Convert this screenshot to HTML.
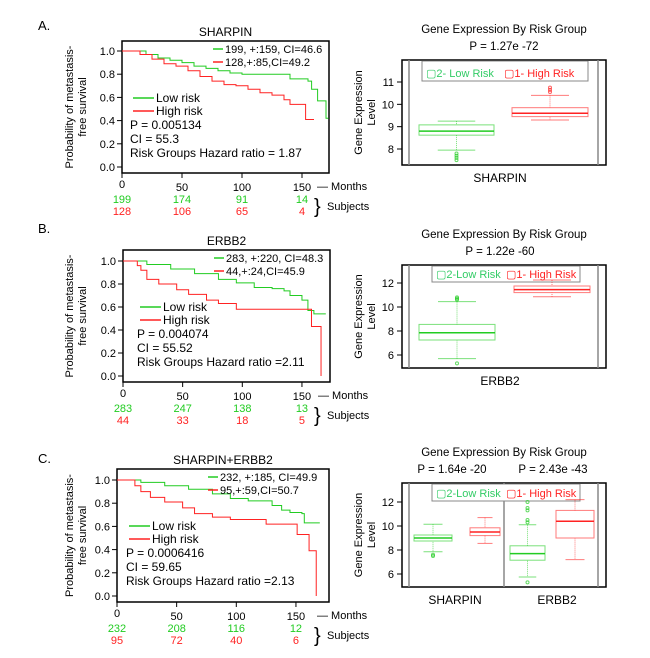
<!DOCTYPE html>
<html><head><meta charset="utf-8"><style>
body{margin:0;background:#fff;}
svg{display:block;font-family:"Liberation Sans",Arial,sans-serif;}
</style></head><body>
<svg id="fig" width="650" height="658" viewBox="0 0 650 658" xmlns="http://www.w3.org/2000/svg"></svg>
<script>
// ---------- KM data (months, survival) ----------
const kmA_low=[[0,1],[10,1],[20,0.97],[30,0.94],[40,0.92],[50,0.9],[60,0.87],[70,0.85],[80,0.83],[90,0.81],[100,0.8],[130,0.8],[140,0.76],[155,0.74],[158,0.67],[163,0.57],[170,0.42],[172,0.42]];
const kmA_high=[[0,1],[10,1],[15,0.97],[25,0.93],[35,0.89],[45,0.87],[55,0.83],[65,0.78],[75,0.74],[85,0.71],[95,0.7],[105,0.67],[115,0.64],[125,0.62],[135,0.58],[140,0.54],[152,0.54],[153,0.41],[160,0.41]];
const kmB_low=[[0,1],[10,1],[20,0.97],[40,0.93],[60,0.89],[80,0.84],[95,0.81],[110,0.77],[125,0.76],[135,0.74],[140,0.7],[150,0.66],[155,0.57],[160,0.54],[170,0.54]];
const kmB_high=[[0,1],[8,1],[12,0.96],[15,0.92],[20,0.84],[30,0.8],[45,0.75],[55,0.71],[70,0.66],[80,0.63],[95,0.58],[156,0.58],[158,0.43],[165,0.43],[166,0]];
const kmC_low=[[0,1],[10,1],[20,0.98],[40,0.95],[60,0.92],[80,0.88],[95,0.84],[110,0.82],[130,0.78],[138,0.74],[145,0.72],[155,0.71],[157,0.63],[170,0.63]];
const kmC_high=[[0,1],[12,1],[15,0.95],[20,0.9],[28,0.85],[40,0.81],[55,0.76],[65,0.71],[80,0.68],[95,0.66],[125,0.62],[150,0.62],[151,0.53],[160,0.53],[161,0.39],[166,0.39],[167,0]];
const kmTicksX=[0,50,100,150];
const kmTicksY=[0,0.2,0.4,0.6,0.8,1.0];
const subjA_low=[199,174,91,14], subjA_high=[128,106,65,4];
const subjB_low=[283,247,138,13], subjB_high=[44,33,18,5];
const subjC_low=[232,208,116,12], subjC_high=[95,72,40,6];
// ---------- Box data: [lowWhisker, q1, median, q3, highWhisker] ----------
const boxA_low=[7.95,8.62,8.8,9.08,9.25], boxA_high=[9.3,9.45,9.6,9.85,10.4];
const outA_low=[7.5,7.6,7.7,7.8], outA_high=[10.55,10.65,10.75];
const boxB_low=[5.7,7.25,7.85,8.55,10.45], boxB_high=[10.85,11.2,11.45,11.75,12.25];
const outB_low=[10.6,10.7,10.8,5.3], outB_high=[];
const boxC_s_low=[7.85,8.75,9.0,9.25,10.15], boxC_s_high=[8.55,9.2,9.5,9.85,10.7];
const outC_s_low=[7.5,7.6];
const boxC_e_low=[5.75,7.15,7.7,8.35,10.1], boxC_e_high=[7.2,9.0,10.4,11.3,12.2];
const outC_e_low=[10.3,10.5,11.3,11.5,12.0,5.3];
const GREEN='#22cc22', RED='#ff2222', LG='#33cc66';
const svg=document.getElementById('fig');
const NS='http://www.w3.org/2000/svg';
function el(tag,attrs,parent,text){const e=document.createElementNS(NS,tag);for(const k in attrs)e.setAttribute(k,attrs[k]);if(text!==undefined)e.textContent=text;(parent||svg).appendChild(e);return e;}
function txt(x,y,s,size,fill,anchor,parent,name){const t=el('text',{x:x,y:y,'font-size':size,fill:fill||'#000','text-anchor':anchor||'start'},parent,s);

return t;}

function km(cfg){
  const g=el('g',{});
  
  
  const X=m=>cfg.x0+m*cfg.sx, Y=v=>cfg.y0-(cfg.y0-cfg.y1)*v;
  txt(cfg.letterX,cfg.letterY,cfg.letter,13,'#000','start',g,'panel-letter');
  txt((cfg.bx0+cfg.bx1)/2,cfg.top-5,cfg.title,12,'#000','middle',g,'km-title');
  const r=el('rect',{x:cfg.bx0,y:cfg.top,width:cfg.bx1-cfg.bx0,height:cfg.bot-cfg.top,fill:'none',stroke:'#000','stroke-width':1.5},g);
  
  kmTicksY.forEach(v=>{el('line',{x1:cfg.bx0-5,x2:cfg.bx0,y1:Y(v),y2:Y(v),stroke:'#000'},g);txt(cfg.bx0-7,Y(v)+4,v.toFixed(1),11,'#000','end',g,'y-tick-label');});
  kmTicksX.forEach((m,i)=>{el('line',{x1:X(m),x2:X(m),y1:cfg.bot,y2:cfg.bot+5,stroke:'#000'},g);
    txt(X(m),cfg.bot+(i==0?15:18),String(m),11,'#000','middle',g,'x-tick-label');
    txt(X(m),cfg.bot+30,String(cfg.sl[i]),11,GREEN,'middle',g,'subjects-low');
    txt(X(m),cfg.bot+42,String(cfg.sh[i]),11,RED,'middle',g,'subjects-high');});
  txt(cfg.bx1-12,cfg.bot+17,'— Months',11,'#000','start',g,'months-label');
  txt(314,cfg.bot+40,'}',20,'#000','start',g,'brace');
  txt(327,cfg.bot+37,'Subjects',11,'#000','start',g,'subjects-label');
  const yl=el('text',{transform:`translate(${cfg.ylx},${(cfg.top+cfg.bot)/2}) rotate(-90)`,'font-size':11,'text-anchor':'middle'},g);
  
  el('tspan',{x:0,y:0},yl,'Probability of metastasis-');el('tspan',{x:0,y:13},yl,'free survival');
  function path(d,col,name){let s='M'+X(d[0][0])+','+Y(d[0][1]);for(let i=1;i<d.length;i++){s+=' H'+X(d[i][0])+' V'+Y(d[i][1]);}
    const p=el('path',{d:s,fill:'none',stroke:col,'stroke-width':1},g);}
  path(cfg.low,GREEN,'curve-low-risk');path(cfg.high,RED,'curve-high-risk');
  const lx=cfg.bx0+91;
  el('line',{x1:lx,x2:lx+10,y1:cfg.top+8,y2:cfg.top+8,stroke:GREEN,'stroke-width':1.5},g);
  txt(lx+12,cfg.top+12,cfg.l1,11,'#000','start',g,'legend-low-stats');
  el('line',{x1:lx,x2:lx+10,y1:cfg.top+21,y2:cfg.top+21,stroke:RED,'stroke-width':1.5},g);
  txt(lx+12,cfg.top+25,cfg.l2,11,'#000','start',g,'legend-high-stats');
  const ix=cfg.bx0+cfg.ix;
  el('line',{x1:ix+3,x2:ix+24,y1:cfg.top+57,y2:cfg.top+57,stroke:GREEN,'stroke-width':1.5},g);
  txt(ix+26,cfg.top+61,'Low risk',12,'#000','start',g,'legend-low-risk');
  el('line',{x1:ix+3,x2:ix+24,y1:cfg.top+70,y2:cfg.top+70,stroke:RED,'stroke-width':1.5},g);
  txt(ix+26,cfg.top+74,'High risk',12,'#000','start',g,'legend-high-risk');
  txt(ix,cfg.top+88,cfg.p,12,'#000','start',g,'p-value');
  txt(ix,cfg.top+102,cfg.ci,12,'#000','start',g,'ci-value');
  txt(ix,cfg.top+116,cfg.hr,12,'#000','start',g,'hazard-ratio');
}
km({name:'km-chart-sharpin',letter:'A.',letterX:38,letterY:30,title:'SHARPIN',bx0:122,bx1:329,top:41,bot:173,x0:122,sx:1.2,y0:167,y1:51,ylx:73,
  low:kmA_low,high:kmA_high,sl:subjA_low,sh:subjA_high,l1:'199, +:159, CI=46.6',l2:'128,+:85,CI=49.2',ix:8,p:'P = 0.005134',ci:'CI = 55.3',hr:'Risk Groups Hazard ratio = 1.87'});
km({name:'km-chart-erbb2',letter:'B.',letterX:38,letterY:233,title:'ERBB2',bx0:123,bx1:330,top:250,bot:382,x0:123,sx:1.193,y0:376,y1:261,ylx:73,
  low:kmB_low,high:kmB_high,sl:subjB_low,sh:subjB_high,l1:'283, +:220, CI=48.3',l2:'44,+:24,CI=45.9',ix:14,p:'P = 0.004074',ci:'CI = 55.52',hr:'Risk Groups Hazard ratio =2.11'});
km({name:'km-chart-combined',letter:'C.',letterX:38,letterY:463,title:'SHARPIN+ERBB2',bx0:117,bx1:329,top:469,bot:602,x0:117,sx:1.193,y0:596,y1:480,ylx:73,
  low:kmC_low,high:kmC_high,sl:subjC_low,sh:subjC_high,l1:'232, +:185, CI=49.9',l2:'95,+:59,CI=50.7',ix:9,p:'P = 0.0006416',ci:'CI = 59.65',hr:'Risk Groups Hazard ratio =2.13'});

function boxPanel(cfg){
  const g=el('g',{});
  
  
  const Y=v=>cfg.ya+(v-cfg.va)*(cfg.yb-cfg.ya)/(cfg.vb-cfg.va);
  txt(504,cfg.top-27,'Gene Expression By Risk Group',11.5,'#000','middle',g,'box-title');
  cfg.ps.forEach(p=>txt(p[0],cfg.top-10,p[1],11.5,'#000','middle',g,'box-p-value'));
  const r=el('rect',{x:402,y:cfg.top,width:204,height:cfg.bot-cfg.top,fill:'none',stroke:'#000','stroke-width':1.5},g);
  
  cfg.vlines.forEach(x=>el('line',{x1:x,x2:x,y1:cfg.top,y2:cfg.bot,stroke:'#888','stroke-width':1.5},g));
  cfg.ticks.forEach(v=>{el('line',{x1:397,x2:402,y1:Y(v),y2:Y(v),stroke:'#000'},g);txt(394,Y(v)+4,String(v),11,'#000','end',g,'y-tick-label');});
  const yl=el('text',{transform:`translate(362,${(cfg.top+cfg.bot)/2}) rotate(-90)`,'font-size':11,'text-anchor':'middle'},g);
  
  el('tspan',{x:0,y:0},yl,'Gene Expression');el('tspan',{x:0,y:13},yl,'Level');
  const lg=el('rect',{x:cfg.lg[0],y:cfg.top+1,width:cfg.lg[1]-cfg.lg[0],height:cfg.lgh,fill:'#fff',stroke:'#888','stroke-width':1},g);
  
  txt(cfg.lg[0]+4,cfg.top+cfg.lgh-3,cfg.lt1,11,LG,'start',g,'legend-low-risk');
  txt(cfg.lg[2],cfg.top+cfg.lgh-3,cfg.lt2,11,RED,'start',g,'legend-high-risk');
  cfg.boxes.forEach(b=>{
    const [w0,q1,md,q3,w1]=b.d, c=b.c, xm=(b.x0+b.x1)/2, hw=(b.x1-b.x0)*0.25;
    const bg=el('g',{},g);
    el('line',{x1:xm,x2:xm,y1:Y(w1),y2:Y(w0),stroke:c,'stroke-dasharray':'1,1','stroke-opacity':0.6},bg);
    el('line',{x1:xm-hw,x2:xm+hw,y1:Y(w1),y2:Y(w1),stroke:c,'stroke-opacity':0.6},bg);
    el('line',{x1:xm-hw,x2:xm+hw,y1:Y(w0),y2:Y(w0),stroke:c,'stroke-opacity':0.6},bg);
    el('rect',{x:b.x0,y:Y(q3),width:b.x1-b.x0,height:Y(q1)-Y(q3),fill:'#fff',stroke:c,'stroke-opacity':0.6},bg);
    el('line',{x1:b.x0,x2:b.x1,y1:Y(md),y2:Y(md),stroke:c,'stroke-width':1.5},bg);
    (b.o||[]).forEach(o=>el('circle',{cx:xm,cy:Y(o),r:1.5,fill:'none',stroke:c,'stroke-opacity':0.7},bg));
  });
  cfg.xl.forEach(l=>txt(l[0],cfg.bot+17,l[1],12,'#000','middle',g,'x-category-label'));
}
boxPanel({name:'box-chart-sharpin',top:60,bot:165,ya:82,va:11,yb:149,vb:8,ticks:[11,10,9,8],vlines:[409,598],
  ps:[[504,'P = 1.27e -72']],lg:[422,588,504],lgh:20,lt1:'▢2- Low Risk',lt2:'▢1- High Risk',
  boxes:[{name:'box-low-risk',d:boxA_low,o:outA_low,c:GREEN,x0:419,x1:494},{name:'box-high-risk',d:boxA_high,o:outA_high,c:RED,x0:512,x1:588}],
  xl:[[500,'SHARPIN']]});
boxPanel({name:'box-chart-erbb2',top:265,bot:368,ya:283,va:12,yb:355,vb:6,ticks:[12,10,8,6],vlines:[409,598],
  ps:[[500,'P = 1.22e -60']],lg:[432,580,506],lgh:16,lt1:'▢2-Low Risk',lt2:'▢1- High Risk',
  boxes:[{name:'box-low-risk',d:boxB_low,o:outB_low,c:GREEN,x0:419,x1:495},{name:'box-high-risk',d:boxB_high,o:outB_high,c:RED,x0:514,x1:590}],
  xl:[[500,'ERBB2']]});
boxPanel({name:'box-chart-combined',top:483,bot:587,ya:502,va:12,yb:574,vb:6,ticks:[12,10,8,6],vlines:[409,504,598],
  ps:[[452,'P = 1.64e -20'],[553,'P = 2.43e -43']],lg:[432,580,506],lgh:17,lt1:'▢2-Low Risk',lt2:'▢1- High Risk',
  boxes:[{name:'box-sharpin-low',d:boxC_s_low,o:outC_s_low,c:GREEN,x0:414,x1:452},{name:'box-sharpin-high',d:boxC_s_high,c:RED,x0:470,x1:500},
         {name:'box-erbb2-low',d:boxC_e_low,o:outC_e_low,c:GREEN,x0:510,x1:545},{name:'box-erbb2-high',d:boxC_e_high,c:RED,x0:556,x1:594}],
  xl:[[455,'SHARPIN'],[557,'ERBB2']]});
</script>
</body></html>
